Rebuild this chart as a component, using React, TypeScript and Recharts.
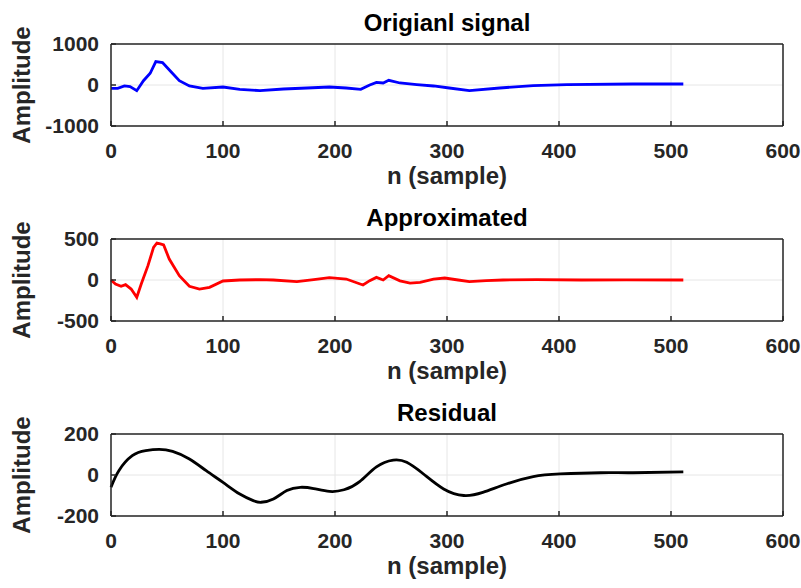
import { LineChart, Line, XAxis, YAxis, CartesianGrid, Label } from 'recharts'

// sample index / amplitude pairs
const origN = [0, 6, 12, 17, 23, 29, 35, 40, 46, 54, 61, 70, 82, 100, 115, 133, 154, 175, 195, 210, 223, 231, 237, 243, 248, 258, 273, 288, 302, 320, 347, 377, 407, 466, 511]
const origAmp = [-81, -81, -24, -40, -138, 105, 285, 570, 545, 310, 105, -24, -81, -49, -105, -138, -98, -73, -49, -73, -105, 0, 65, 49, 114, 49, 8, -24, -73, -138, -73, -16, 8, 24, 24]

const approxN = [0, 4, 9, 13, 18, 23, 27, 33, 38, 41, 44, 47, 52, 61, 70, 79, 88, 100, 115, 133, 145, 166, 181, 195, 210, 225, 231, 237, 243, 248, 258, 267, 276, 288, 298, 310, 320, 335, 350, 380, 420, 460, 511]
const approxAmp = [0, -49, -77, -57, -110, -211, -49, 175, 398, 451, 440, 427, 256, 53, -77, -110, -89, -12, 0, 4, 0, -20, 4, 28, 12, -61, -8, 32, 0, 53, -10, -37, -30, 10, 24, 0, -20, -8, 0, 4, 0, 2, 0]

const resN = [0, 7, 19, 31, 43, 55, 70, 85, 100, 115, 127, 134, 145, 157, 169, 181, 195, 208, 222, 237, 252, 264, 279, 297, 315, 332, 353, 377, 401, 437, 466, 511]
const resAmp = [-60, 21, 94, 119, 125, 115, 78, 21, -36, -93, -125, -133, -117, -76, -60, -66, -80, -72, -32, 40, 73, 62, 5, -68, -100, -85, -44, -8, 5, 11, 11, 15]

const xTicks = [0, 100, 200, 300, 400, 500, 600]

const toRows = (ns: number[], vs: number[]) => ns.map((n, i) => ({ n, v: vs[i] }))

const font = '"Liberation Sans", Arial, Helvetica, sans-serif'
const ink = '#262626'

function YLabel({ viewBox }: any) {
  const x = 21
  const y = viewBox.y + viewBox.height / 2
  return (
    <text x={x} y={y} transform={`rotate(-90, ${x}, ${y})`} textAnchor="middle" dominantBaseline="central"
      fontFamily={font} fontWeight="bold" fontSize={24} fill={ink}>
      Amplitude
    </text>
  )
}

function Title({ viewBox, value }: any) {
  return (
    <text x={viewBox.x + viewBox.width / 2} y={viewBox.y - 12} textAnchor="middle"
      fontFamily={font} fontWeight="bold" fontSize={24} fill="#000">
      {value}
    </text>
  )
}

function Panel({ ns, vs, color, title, lim, curve }: any) {
  const tickStyle = { fontFamily: font, fontWeight: 'bold', fontSize: 21, fill: ink }
  return (
    <LineChart width={801} height={195} data={toRows(ns, vs)} margin={{ top: 43, right: 17, bottom: 0, left: 0 }}>
      <CartesianGrid stroke="#e6e6e6" strokeWidth={1} xAxisId={0} yAxisId={0} />
      <XAxis xAxisId={0} dataKey="n" type="number" domain={[0, 600]} ticks={xTicks} height={69}
        stroke={ink} strokeWidth={1.5} tickSize={-5} tickMargin={22} tick={tickStyle}>
        <Label value="n (sample)" position="insideBottom" offset={11}
          style={{ fontFamily: font, fontWeight: 'bold', fontSize: 24, fill: ink }} />
      </XAxis>
      <XAxis xAxisId="top" orientation="top" dataKey="n" type="number" domain={[0, 600]} ticks={xTicks} height={1}
        stroke={ink} strokeWidth={1.5} tickSize={-5} tick={false}>
        <Label value={title} content={Title} />
      </XAxis>
      <YAxis yAxisId={0} type="number" domain={[-lim, lim]} ticks={[-lim, 0, lim]} width={111}
        stroke={ink} strokeWidth={1.5} tickSize={-5} tickMargin={17} tick={tickStyle}>
        <Label content={YLabel} />
      </YAxis>
      <YAxis yAxisId="right" orientation="right" type="number" domain={[-lim, lim]} ticks={[-lim, 0, lim]} width={1}
        stroke={ink} strokeWidth={1.5} tickSize={-5} tick={false} />
      <Line xAxisId={0} yAxisId={0} type={curve} dataKey="v" stroke={color} strokeWidth={2.8} dot={false}
        isAnimationActive={false} />
      <Line xAxisId="top" yAxisId="right" type="linear" dataKey="v" stroke="none" dot={false}
        isAnimationActive={false} legendType="none" />
    </LineChart>
  )
}

export default function App() {
  return (
    <div style={{ position: 'absolute', left: 0, top: 0, width: 801, height: 588, background: '#fff' }}>
      <div style={{ position: 'absolute', left: 0, top: 0 }}>
        <Panel ns={origN} vs={origAmp} color="#0000ff" title="Origianl signal" lim={1000} curve="linear" />
      </div>
      <div style={{ position: 'absolute', left: 0, top: 195 }}>
        <Panel ns={approxN} vs={approxAmp} color="#ff0000" title="Approximated" lim={500} curve="linear" />
      </div>
      <div style={{ position: 'absolute', left: 0, top: 390 }}>
        <Panel ns={resN} vs={resAmp} color="#000000" title="Residual" lim={200} curve="natural" />
      </div>
    </div>
  )
}
